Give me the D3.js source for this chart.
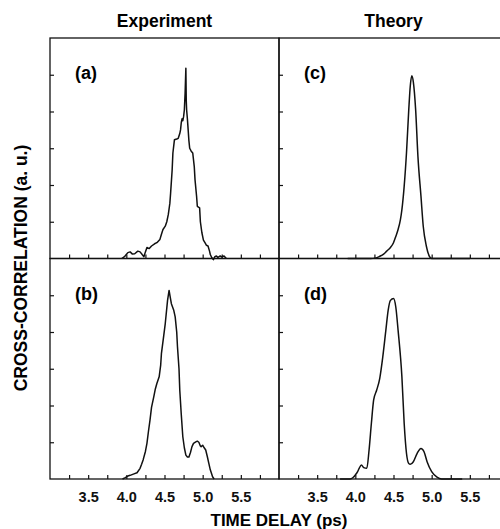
<!DOCTYPE html>
<html>
<head>
<meta charset="utf-8">
<script src="https://cdn.jsdelivr.net/npm/d3@7"></script>
<style>
  body { margin: 0; background: #fff; }
  svg { display: block; font-family: "Liberation Sans", Arial, Helvetica, sans-serif; }
  .frame { fill: none; stroke: #111; stroke-width: 1.3; }
  .curve { fill: none; stroke: #111; stroke-width: 1.5; stroke-linejoin: round; }
</style>
</head>
<body>
<svg id="chart" width="500" height="529"></svg>
<script>
// column titles, panel tags, tick labels
const columns = ["Experiment", "Theory"];
const panelTags = ["(a)", "(b)", "(c)", "(d)"];
const xTicks = [3.25, 3.5, 3.75, 4.0, 4.25, 4.5, 4.75, 5.0, 5.25, 5.5, 5.75];
const xLabels = [3.5, 4.0, 4.5, 5.0, 5.5];
const yTicks = [1, 2, 3, 4, 5];

// (a) experiment, upper
const expA = [
  [3.94, 0], [3.98, 0.06], [4.02, 0.16], [4.05, 0.18], [4.08, 0.12], [4.11, 0.13], [4.15, 0.2],
  [4.18, 0.18], [4.21, 0.1], [4.23, 0.05], [4.25, 0.18], [4.27, 0.3], [4.30, 0.27], [4.33, 0.34],
  [4.37, 0.4], [4.40, 0.43], [4.44, 0.52], [4.46, 0.66], [4.48, 0.79], [4.51, 0.88], [4.53, 1.0],
  [4.55, 1.2], [4.57, 1.5], [4.58, 1.78], [4.60, 2.4], [4.61, 2.87], [4.63, 3.23], [4.66, 3.25],
  [4.68, 3.27], [4.70, 3.4], [4.71, 3.5], [4.72, 3.7], [4.73, 3.8], [4.74, 3.75], [4.75, 3.86],
  [4.76, 4.04], [4.77, 4.5], [4.78, 5.18], [4.785, 4.3], [4.79, 4.04], [4.80, 3.8], [4.81, 3.5],
  [4.82, 3.2], [4.83, 3.0], [4.85, 2.92], [4.87, 2.87], [4.89, 2.5], [4.90, 2.14], [4.92, 1.7],
  [4.93, 1.42], [4.96, 1.38], [4.97, 1.0], [4.99, 0.7], [5.01, 0.5], [5.03, 0.43], [5.05, 0.36],
  [5.07, 0.34], [5.09, 0.2], [5.10, 0.11], [5.12, 0.02], [5.14, -0.03], [5.16, 0.05], [5.18, 0.07],
  [5.20, 0.03], [5.23, 0.07], [5.25, 0.04], [5.28, 0.07], [5.31, 0]
];

// (b) experiment, lower
const expB = [
  [3.95, 0], [3.98, 0.03], [4.02, 0.08], [4.05, 0.1], [4.10, 0.14], [4.14, 0.17], [4.18, 0.29],
  [4.20, 0.4], [4.22, 0.52], [4.25, 0.75], [4.27, 0.97], [4.29, 1.3], [4.31, 1.6], [4.33, 1.95],
  [4.36, 2.24], [4.38, 2.45], [4.40, 2.6], [4.43, 2.78], [4.45, 3.1], [4.46, 3.42], [4.49, 3.9],
  [4.51, 4.23], [4.54, 4.86], [4.56, 5.13], [4.575, 4.95], [4.59, 4.77], [4.62, 4.6], [4.64, 4.41],
  [4.66, 4.0], [4.67, 3.6], [4.69, 3.0], [4.70, 2.42], [4.72, 1.75], [4.74, 1.15], [4.76, 0.85],
  [4.78, 0.65], [4.80, 0.6], [4.82, 0.6], [4.84, 0.72], [4.86, 0.88], [4.88, 0.97], [4.91, 1.01],
  [4.93, 1.03], [4.95, 1.0], [4.97, 0.9], [4.98, 0.88], [5.00, 0.92], [5.02, 0.85], [5.04, 0.79],
  [5.06, 0.62], [5.08, 0.43], [5.10, 0.25], [5.13, 0.06], [5.15, 0]
];

// (c) theory, upper
const theoC = [
  [3.90, 0], [4.10, 0], [4.20, 0], [4.26, 0.01], [4.32, 0.06], [4.37, 0.12], [4.41, 0.2],
  [4.46, 0.3], [4.50, 0.43], [4.53, 0.6], [4.56, 0.79], [4.59, 1.05], [4.61, 1.33], [4.64, 1.97],
  [4.67, 2.87], [4.70, 4.05], [4.72, 4.7], [4.74, 4.97], [4.76, 4.8], [4.79, 4.05], [4.82, 2.78],
  [4.86, 1.69], [4.89, 0.87], [4.93, 0.34], [4.97, 0.06], [5.00, 0], [5.20, 0], [5.50, 0]
];

// (d) theory, lower
const theoD = [
  [3.80, 0], [3.93, 0], [3.97, 0.04], [4.00, 0.11], [4.03, 0.2], [4.05, 0.29], [4.08, 0.38],
  [4.11, 0.31], [4.15, 0.29], [4.18, 0.79], [4.21, 1.51], [4.24, 2.15], [4.28, 2.42], [4.32, 2.74],
  [4.36, 3.33], [4.40, 4.05], [4.43, 4.59], [4.46, 4.86], [4.50, 4.91], [4.53, 4.68], [4.56, 4.05],
  [4.61, 2.78], [4.64, 1.51], [4.67, 0.7], [4.70, 0.42], [4.72, 0.4], [4.76, 0.47], [4.81, 0.7],
  [4.86, 0.83], [4.90, 0.74], [4.94, 0.47], [5.00, 0.2], [5.07, 0.05], [5.13, 0], [5.40, 0]
];

const svg = d3.select("#chart");

const marginLeft = 50, marginTop = 38, panelW = 229, panelH = 220.5;

// column titles
svg.selectAll("text.coltitle")
  .data(columns)
  .enter().append("text")
  .attr("class", "coltitle")
  .attr("x", (d, i) => marginLeft + panelW * i + panelW / 2)
  .attr("y", 27)
  .attr("text-anchor", "middle")
  .attr("font-size", 17.5)
  .attr("font-weight", "bold")
  .text(d => d);

const panels = [
  { data: expA, col: 0, row: 0, tag: panelTags[0], smooth: false },
  { data: expB, col: 0, row: 1, tag: panelTags[1], smooth: false },
  { data: theoC, col: 1, row: 0, tag: panelTags[2], smooth: true },
  { data: theoD, col: 1, row: 1, tag: panelTags[3], smooth: true }
];

panels.forEach(p => {
  const x0 = marginLeft + p.col * panelW;
  const y0 = marginTop + p.row * panelH;
  const g = svg.append("g").attr("transform", `translate(${x0},${y0})`);

  const x = d3.scaleLinear().domain([3.0, 6.0]).range([0, panelW]);
  const y = d3.scaleLinear().domain([0, 6]).range([panelH, 0]);

  // frame
  g.append("rect").attr("class", "frame")
    .attr("x", 0).attr("y", 0).attr("width", panelW).attr("height", panelH);

  // bottom axis, ticks pointing inward
  const xAxis = d3.axisBottom(x)
    .tickValues(xTicks)
    .tickSizeInner(-4)
    .tickSizeOuter(0)
    .tickPadding(13)
    .tickFormat(d => (p.row === 1 && xLabels.some(v => Math.abs(v - d) < 1e-6)) ? d3.format(".1f")(d) : "");
  const gx = g.append("g").attr("transform", `translate(0,${panelH})`).call(xAxis);
  gx.select(".domain").remove();
  gx.selectAll("line").attr("stroke", "#111").attr("stroke-width", 1.2);
  gx.selectAll("text")
    .attr("font-size", 14.5)
    .attr("font-weight", "bold")
    .attr("fill", "#111")
    .attr("font-family", "'Liberation Sans', Arial, sans-serif");

  // left axis, ticks pointing inward
  const yAxis = d3.axisLeft(y)
    .tickValues(yTicks)
    .tickSizeInner(-4)
    .tickSizeOuter(0)
    .tickFormat("");
  const gy = g.append("g").call(yAxis);
  gy.select(".domain").remove();
  gy.selectAll("line").attr("stroke", "#111").attr("stroke-width", 1.2);

  // curve
  const line = d3.line()
    .x(d => x(d[0]))
    .y(d => y(d[1]))
    .curve(p.smooth ? d3.curveMonotoneX : d3.curveLinear);
  g.append("path").attr("class", "curve").attr("d", line(p.data));

  // panel tag
  g.append("text")
    .attr("x", 25)
    .attr("y", 41)
    .attr("font-size", 18)
    .attr("font-weight", "bold")
    .text(p.tag);
});

// axis titles
svg.append("text")
  .attr("x", marginLeft + panelW)
  .attr("y", 526)
  .attr("text-anchor", "middle")
  .attr("font-size", 17)
  .attr("font-weight", "bold")
  .text("TIME DELAY (ps)");

svg.append("text")
  .attr("transform", `translate(27,268) rotate(-90)`)
  .attr("text-anchor", "middle")
  .attr("font-size", 17.5)
  .attr("font-weight", "bold")
  .text("CROSS-CORRELATION (a. u.)");
</script>
</body>
</html>
